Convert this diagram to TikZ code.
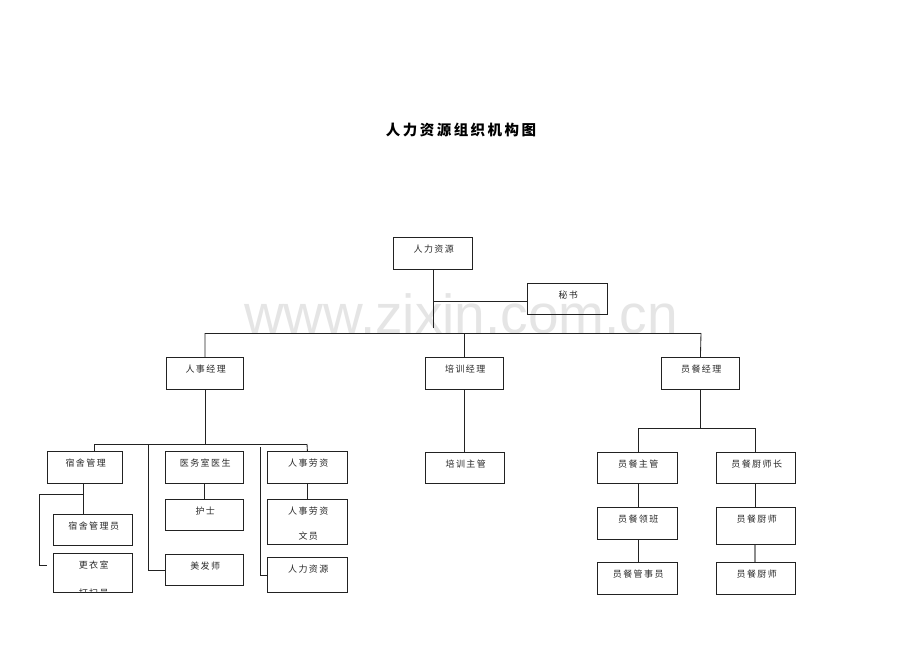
\documentclass[tikz,border=0pt]{standalone}
\usepackage{fontspec}
\usetikzlibrary{calc}
\newfontfamily\cjk[LetterSpace=16]{Noto Sans CJK SC}
\newfontfamily\cjkt[LetterSpace=17]{Noto Sans CJK SC}
\newfontfamily\wmfont{Liberation Sans}
\definecolor{ink}{HTML}{222222}
\definecolor{txtc}{HTML}{2A2A2A}
\tikzset{
  box/.style={draw=ink, line width=0.85pt, inner sep=0pt, anchor=north west, fill=none},
  txt/.style={inner sep=0pt, font=\cjk\fontsize{9}{10}\selectfont, text=txtc, anchor=center},
  conn/.style={draw=ink, line width=0.85pt},
  gconn/.style={draw=black!45, line width=1.1pt},
}
\newcommand\bx[6]{%
  \node[box, minimum width={#4-#2}, minimum height={#5-#3}] (#1) at (#2,#3) {};
  \node[txt] (#1-t) at ($(#1.north)+(0.8,12.5)$) {#6};}
\begin{document}
\begin{tikzpicture}[x=1pt,y=-1pt]
\useasboundingbox[fill=white] (0,0) rectangle (920,669);
% watermark
\node[inner sep=0pt, anchor=base, text=black!10, font=\wmfont\fontsize{55}{55}\selectfont] (wm) at (461,333) {www.zixin.com.cn};
% title
\node[inner sep=0pt, font=\cjkt\bfseries\fontsize{14.5}{16}\selectfont] (title) at (461,130) {人力资源组织机构图};
% boxes
\bx{hr}{393}{237}{472}{269}{人力资源}
\bx{sec}{527}{283}{607}{314}{秘书}
\bx{m1}{166}{357}{243}{389}{人事经理}
\bx{m2}{425}{357}{503}{389}{培训经理}
\bx{m3}{661}{357}{739}{389}{员餐经理}
\bx{a1}{47}{451}{122}{483}{宿舍管理}
\bx{a2}{53}{514}{132}{545}{宿舍管理员}
\bx{a3}{53}{553}{132}{592}{更衣室}
\bx{b1}{165}{451}{243}{483}{医务室医生}
\bx{b2}{165}{499}{243}{530}{护士}
\bx{b3}{165}{554}{243}{585}{美发师}
\bx{c1}{267}{451}{347}{483}{人事劳资}
\bx{c2}{267}{499}{347}{544}{人事劳资}
\node[txt] (c2-t2) at ($(c2.north)+(0.8,37)$) {文员};
\bx{c3}{267}{557}{347}{592}{人力资源}
\bx{t1}{425}{452}{504}{483}{培训主管}
\bx{d1}{597}{452}{677}{483}{员餐主管}
\bx{d2}{597}{507}{677}{539}{员餐领班}
\bx{d3}{597}{562}{677}{594}{员餐管事员}
\bx{e1}{716}{452}{795}{483}{员餐厨师长}
\bx{e2}{716}{507}{795}{544}{员餐厨师}
\bx{e3}{716}{562}{795}{594}{员餐厨师}
% clipped second line of a3
\begin{scope}
\clip (a3.north west) rectangle (a3.south east);
\node[txt] (a3-t2) at ($(a3.north)+(0.8,40)$) {打扫员};
\end{scope}
% coordinates
\coordinate (hrend) at (433,328);
\coordinate (secj) at (433,301);
\coordinate (busL) at (205,333);
\coordinate (busR) at (701,333);
\coordinate (b2L) at (94,444);
\coordinate (b2R) at (307,444);
\coordinate (j1) at (148,444);
\coordinate (j2) at (260,447);
\coordinate (k1) at (83,494);
\coordinate (k2) at (39,494);
\coordinate (k3) at (47,565);
\coordinate (b3L) at (638,428);
\coordinate (b3R) at (755,428);
% top connectors
\draw[conn] (hr.south -| hrend) -- (hrend);
\draw[conn] (secj) -- (sec.west |- secj);
\draw[conn] (busL) -- (busR);
\draw[conn] (busL) -- (m1.north);
\draw[conn] (m2.north |- busL) -- (m2.north);
\draw[conn] (busR) -- (m3.north);
% left group
\draw[conn] (m1.south) -- (m1.south |- b2L);
\draw[conn] (b2L) -- (b2R);
\draw[conn] (b2L) -- (a1.north -| b2L);
\draw[conn] (b2R) -- (c1.north);
\draw[conn] (j1) |- (b3.west);
\draw[conn] (j2) |- (c3.west);
\draw[conn] (a1.south -| k1) -- (a2.north -| k1);
\draw[conn] (k1) -- (k2) |- (k3);
\draw[conn] (b1.south) -- (b2.north);
\draw[conn] (c1.south) -- (c2.north);
% middle
\draw[conn] (m2.south) -- (t1.north -| m2.south);
% right group
\draw[conn] (m3.south) -- (m3.south |- b3L);
\draw[conn] (b3L) -- (b3R);
\draw[conn] (b3L) -- (d1.north -| b3L);
\draw[conn] (b3R) -- (e1.north -| b3R);
\draw[conn] (d1.south -| b3L) -- (d2.north -| b3L);
\draw[conn] (d2.south -| b3L) -- (d3.north -| b3L);
\draw[conn] (e1.south -| b3R) -- (e2.north -| b3R);
\draw[gconn] (e2.south -| b3R) -- (e3.north -| b3R);
\end{tikzpicture}
\end{document}
